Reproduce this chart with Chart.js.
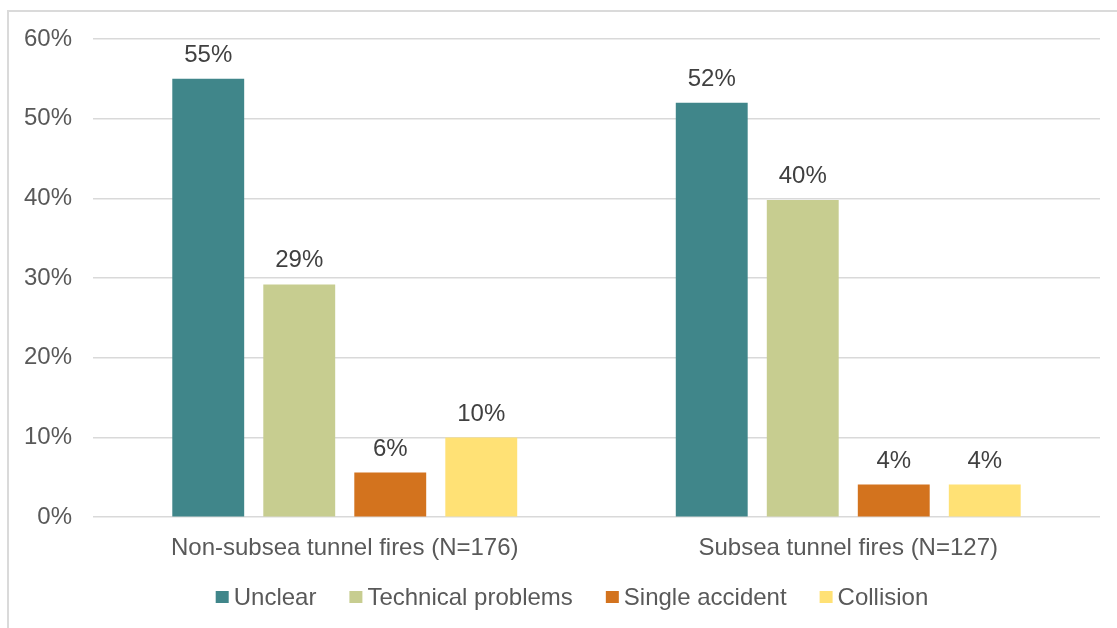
<!DOCTYPE html>
<html>
<head>
<meta charset="utf-8">
<script src="https://cdn.jsdelivr.net/npm/chart.js@4/dist/chart.umd.min.js"></script>
<style>
  html, body { margin: 0; padding: 0; background: #fff; overflow: hidden; }
  #wrap { position: relative; width: 1117px; height: 628px; }
  #frame { position: absolute; left: 7px; top: 10px; width: 1200px; height: 700px; border: 2px solid #dadada; box-sizing: border-box; }
  #chart { position: absolute; left: 0; top: 0; }
</style>
</head>
<body>
<div id="wrap">
  <div id="frame"></div>
  <canvas id="chart" width="1117" height="628"></canvas>
</div>
<script>
const categories = ["Non-subsea tunnel fires (N=176)", "Subsea tunnel fires (N=127)"];
const unclear = [55, 52];
const technicalProblems = [29.2, 39.8];
const singleAccident = [5.6, 4.1];
const collision = [10, 4.1];
const yTicks = [0, 10, 20, 30, 40, 50, 60];

const FONT = "'Liberation Sans', Arial, sans-serif";

// value labels above each bar
const barLabels = {
  id: "barLabels",
  afterDatasetsDraw(chart) {
    const ctx = chart.ctx;
    ctx.save();
    ctx.font = "24px " + FONT;
    ctx.fillStyle = "#404040";
    ctx.textAlign = "center";
    ctx.textBaseline = "alphabetic";
    chart.data.datasets.forEach((ds, i) => {
      chart.getDatasetMeta(i).data.forEach((bar, j) => {
        ctx.fillText(Math.round(ds.data[j]) + "%", bar.x, bar.y - 17);
      });
    });
    ctx.restore();
  }
};

// legend row under the axis, Excel style (small square, tight gap)
const bottomLegend = {
  id: "bottomLegend",
  afterDraw(chart) {
    const ctx = chart.ctx;
    const centerX = 572, y = 597, box = 13, gap = 5, spacing = 33;
    ctx.save();
    ctx.font = "24px " + FONT;
    ctx.textBaseline = "middle";
    ctx.textAlign = "left";
    const items = chart.data.datasets.map(ds => ({
      text: ds.label, color: ds.backgroundColor, w: ctx.measureText(ds.label).width
    }));
    const total = items.reduce((s, it) => s + box + gap + it.w, 0) + spacing * (items.length - 1);
    let x = centerX - total / 2;
    items.forEach(it => {
      ctx.fillStyle = it.color;
      ctx.fillRect(x, y - 6, box, 12);
      ctx.fillStyle = "#595959";
      ctx.fillText(it.text, x + box + gap, y + 1);
      x += box + gap + it.w + spacing;
    });
    ctx.restore();
  }
};

const data = {
  labels: categories,
  datasets: [
    {label: "Unclear", data: unclear, backgroundColor: "#40868a"},
    {label: "Technical problems", data: technicalProblems, backgroundColor: "#c7cd90"},
    {label: "Single accident", data: singleAccident, backgroundColor: "#d3731e"},
    {label: "Collision", data: collision, backgroundColor: "#ffe175"}
  ]
};

new Chart(document.getElementById("chart").getContext("2d"), {
  type: "bar",
  data,
  options: {
    responsive: false,
    animation: false,
    devicePixelRatio: 1,
    layout: {padding: {left: 0, right: 17, top: 39, bottom: 48}},
    datasets: {bar: {categoryPercentage: 0.723, barPercentage: 0.79}},
    scales: {
      x: {
        grid: {display: false, drawTicks: false},
        border: {display: false},
        ticks: {color: "#595959", font: {family: FONT, size: 24}, padding: 17}
      },
      y: {
        min: 0,
        max: 60,
        afterBuildTicks: (s) => { s.ticks = yTicks.map(v => ({value: v})); },
        grid: {color: "#d9d9d9", lineWidth: 1.5, drawTicks: false},
        border: {display: false},
        ticks: {color: "#595959", font: {family: FONT, size: 24}, padding: 21, callback: (v) => v + "%"},
        afterFit: (s) => { s.width = 93; }
      }
    },
    plugins: {
      tooltip: {enabled: false},
      legend: {display: false}
    }
  },
  plugins: [barLabels, bottomLegend]
});
</script>
</body>
</html>
